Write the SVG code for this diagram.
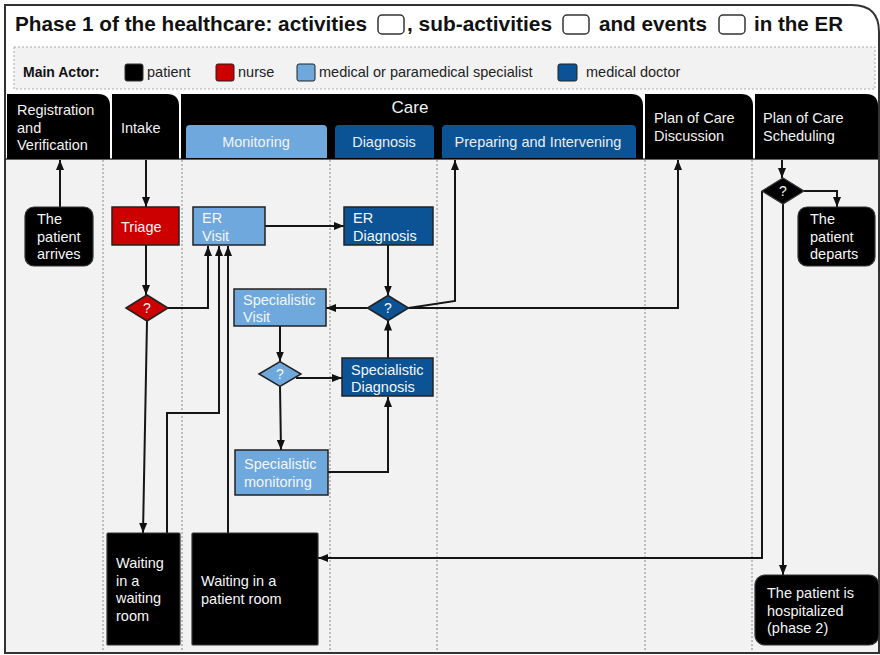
<svg xmlns="http://www.w3.org/2000/svg" width="880" height="655" viewBox="0 0 880 655">
<defs>
<marker id="ah" markerWidth="10" markerHeight="8" refX="10" refY="4" orient="auto" markerUnits="userSpaceOnUse">
<path d="M0,0 L10,4 L0,8 z" fill="#111"/>
</marker>
<style>
text{font-family:"Liberation Sans",Arial,sans-serif}
.t{font-size:14.5px;fill:#f4f6f8}
.h{font-size:14.5px;fill:#f2f2f2}
.title{font-size:20.5px;font-weight:bold;fill:#111}
.lg{font-size:14.5px;fill:#222}
.tab{fill:#000}
.lane{stroke:#9a9a9a;stroke-width:1.2;stroke-dasharray:2,2;fill:none}
.c{fill:none;stroke:#151515;stroke-width:2}
.ca{fill:none;stroke:#151515;stroke-width:2;marker-end:url(#ah)}
.blk{fill:#000;stroke:#333;stroke-width:1.2}
.red{fill:#cc0000;stroke:#222;stroke-width:1.5}
.lb{fill:#6fa8dc;stroke:#222;stroke-width:1.5}
.db{fill:#0b5394;stroke:#222;stroke-width:1.5}
.q{font-size:14px;fill:#f4f6f8;text-anchor:middle}
</style>
</defs>

<!-- frame -->
<g id="frame">
<path d="M5,653 V5 H852 Q879,5 879,32 V653 Z" fill="#fff" stroke="#333" stroke-width="2"/>
<rect x="6" y="159" width="872" height="493" fill="#f2f2f2"/>
<line x1="5" y1="159" x2="879" y2="159" stroke="#333" stroke-width="1.5"/>
<line x1="5" y1="653" x2="879" y2="653" stroke="#333" stroke-width="2"/>
</g>

<!-- title -->
<g id="title">
<text class="title" x="15" y="31" textLength="352" lengthAdjust="spacingAndGlyphs">Phase 1 of the healthcare: activities</text>
<rect x="378" y="15" width="26" height="19" rx="4" fill="#fff" stroke="#333" stroke-width="1.5"/>
<text class="title" x="407" y="31" textLength="145" lengthAdjust="spacingAndGlyphs">, sub-activities</text>
<rect x="563" y="15" width="26" height="19" rx="4" fill="#fff" stroke="#333" stroke-width="1.5"/>
<text class="title" x="599" y="31" textLength="108" lengthAdjust="spacingAndGlyphs">and events</text>
<rect x="719" y="15" width="26" height="19" rx="4" fill="#fff" stroke="#333" stroke-width="1.5"/>
<text class="title" x="754" y="31" textLength="89" lengthAdjust="spacingAndGlyphs">in the ER</text>
</g>

<!-- legend -->
<g id="legend">
<rect x="14" y="47" width="861" height="42" fill="#f2f2f2" stroke="#aaa" stroke-width="1" stroke-dasharray="2,2"/>
<text x="23" y="77" style="font-size:14px;font-weight:bold;fill:#111">Main Actor:</text>
<rect x="125" y="64" width="18" height="17" rx="2" fill="#000" stroke="#333" stroke-width="1"/>
<text class="lg" x="147" y="77">patient</text>
<rect x="216" y="64" width="18" height="17" rx="2" fill="#cc0000" stroke="#222" stroke-width="1"/>
<text class="lg" x="238" y="77">nurse</text>
<rect x="297" y="64" width="18" height="17" rx="2" fill="#6fa8dc" stroke="#222" stroke-width="1"/>
<text class="lg" x="319" y="77">medical or paramedical specialist</text>
<rect x="558" y="64" width="19" height="17" rx="2" fill="#0b5394" stroke="#222" stroke-width="1"/>
<text class="lg" x="586" y="77">medical doctor</text>
</g>

<!-- header tabs -->
<g id="hdr-registration">
<path class="tab" d="M7,159 V94 H98 Q110,94 110,106 V159 Z"/>
<text class="h" x="17" y="115">Registration</text>
<text class="h" x="17" y="132.5">and</text>
<text class="h" x="17" y="150">Verification</text>
</g>
<g id="hdr-intake">
<path class="tab" d="M112,159 V94 H167 Q179,94 179,106 V159 Z"/>
<text class="h" x="121" y="133">Intake</text>
</g>
<g id="hdr-care">
<path class="tab" d="M181,159 V94 H631 Q643,94 643,106 V159 Z"/>
<text class="h" x="410" y="113" text-anchor="middle" style="font-size:17px">Care</text>
<path d="M186,158 V129 Q186,125 190,125 H323 Q327,125 327,129 V158 Z" fill="#6fa8dc"/>
<text x="256" y="147" text-anchor="middle" style="font-size:14.5px;fill:#eef4fb">Monitoring</text>
<path d="M335,158 V129 Q335,125 339,125 H430 Q434,125 434,129 V158 Z" fill="#0b5394"/>
<text x="384" y="147" text-anchor="middle" style="font-size:14.5px;fill:#e6eef8">Diagnosis</text>
<path d="M442,158 V129 Q442,125 446,125 H632 Q636,125 636,129 V158 Z" fill="#0b5394"/>
<text x="538" y="147" text-anchor="middle" style="font-size:14.5px;fill:#e6eef8">Preparing and Intervening</text>
</g>
<g id="hdr-discussion">
<path class="tab" d="M645,159 V94 H741 Q753,94 753,106 V159 Z"/>
<text class="h" x="654" y="123">Plan of Care</text>
<text class="h" x="654" y="141">Discussion</text>
</g>
<g id="hdr-scheduling">
<path class="tab" d="M755,159 V94 H866 Q878,94 878,106 V159 Z"/>
<text class="h" x="763" y="123">Plan of Care</text>
<text class="h" x="763" y="141">Scheduling</text>
</g>

<!-- lanes -->
<g id="lanes">
<line class="lane" x1="103" y1="160" x2="103" y2="652"/>
<line class="lane" x1="182" y1="160" x2="182" y2="652"/>
<line class="lane" x1="330" y1="160" x2="330" y2="652"/>
<line class="lane" x1="437" y1="160" x2="437" y2="652"/>
<line class="lane" x1="645" y1="160" x2="645" y2="652"/>
<line class="lane" x1="752" y1="160" x2="752" y2="652"/>
</g>

<!-- connectors -->
<g id="connectors">
<path class="ca" d="M60,207 V160"/>
<path class="ca" d="M146,160 V207"/>
<path class="ca" d="M146,245 V295"/>
<path class="ca" d="M147,321 L143,533"/>
<path class="ca" d="M168,308 H208 V246"/>
<path class="ca" d="M167,533 V413 H219 V246"/>
<path class="ca" d="M228,533 V246"/>
<path class="ca" d="M265,226 H344"/>
<path class="ca" d="M388,245 V295.5"/>
<path class="ca" d="M367.5,308 H326"/>
<path class="ca" d="M408.5,308 L455,301 V160"/>
<path class="ca" d="M408.5,308 H678 V160"/>
<path class="ca" d="M388,358 V320.5"/>
<path class="ca" d="M280,326 V361.5"/>
<path class="ca" d="M296,378 H342"/>
<path class="ca" d="M280,386.5 L281,450"/>
<path class="ca" d="M328,472 H388 V397"/>
<path class="ca" d="M782,160 V178"/>
<path class="ca" d="M804,191 H837 V207"/>
<path class="ca" d="M783,204 V575"/>
<path class="ca" d="M762,191 V558 H318"/>
</g>

<!-- nodes -->
<g id="n-arrives">
<rect class="blk" x="25" y="207" width="68" height="59" rx="9"/>
<text class="t" x="37" y="224">The</text>
<text class="t" x="37" y="241.5">patient</text>
<text class="t" x="37" y="259">arrives</text>
</g>
<g id="n-triage">
<rect class="red" x="112" y="207" width="67" height="38"/>
<text class="t" x="121" y="232">Triage</text>
</g>
<g id="n-triage-decision">
<path class="red" d="M126,308 L147,295 L168,308 L147,321 Z"/>
<text class="q" x="147" y="313">?</text>
</g>
<g id="n-er-visit">
<rect class="lb" x="193" y="207" width="72" height="38"/>
<text class="t" x="202" y="223">ER</text>
<text class="t" x="202" y="241">Visit</text>
</g>
<g id="n-er-diagnosis">
<rect class="db" x="344" y="207" width="89" height="38"/>
<text class="t" x="353" y="223">ER</text>
<text class="t" x="353" y="241">Diagnosis</text>
</g>
<g id="n-diag-decision">
<path class="db" d="M367.5,308 L388,295.5 L408.5,308 L388,320.5 Z"/>
<text class="q" x="388" y="313">?</text>
</g>
<g id="n-spec-visit">
<rect class="lb" x="234" y="289" width="92" height="37"/>
<text class="t" x="243" y="305">Specialistic</text>
<text class="t" x="243" y="322">Visit</text>
</g>
<g id="n-spec-decision">
<path class="lb" d="M259,374 L280,361.5 L301,374 L280,386.5 Z"/>
<text class="q" x="280" y="379">?</text>
</g>
<g id="n-spec-diagnosis">
<rect class="db" x="342" y="358" width="91" height="38"/>
<text class="t" x="351" y="375">Specialistic</text>
<text class="t" x="351" y="392">Diagnosis</text>
</g>
<g id="n-spec-monitoring">
<rect class="lb" x="235" y="450" width="93" height="45"/>
<text class="t" x="244" y="469">Specialistic</text>
<text class="t" x="244" y="487">monitoring</text>
</g>
<g id="n-waiting-room">
<rect class="blk" x="107" y="533" width="73" height="112" rx="1"/>
<text class="t" x="116" y="568">Waiting</text>
<text class="t" x="116" y="585.5">in a</text>
<text class="t" x="116" y="603">waiting</text>
<text class="t" x="116" y="620.5">room</text>
</g>
<g id="n-patient-room">
<rect class="blk" x="192" y="533" width="126" height="112" rx="1"/>
<text class="t" x="201" y="586">Waiting in a</text>
<text class="t" x="201" y="603.5">patient room</text>
</g>
<g id="n-sched-decision">
<path d="M762,191 L783,178 L804,191 L783,204 Z" fill="#000" stroke="#333" stroke-width="1.2"/>
<text class="q" x="783" y="196">?</text>
</g>
<g id="n-departs">
<rect class="blk" x="798" y="207" width="77" height="59" rx="9"/>
<text class="t" x="810" y="224">The</text>
<text class="t" x="810" y="241.5">patient</text>
<text class="t" x="810" y="259">departs</text>
</g>
<g id="n-hospitalized">
<rect class="blk" x="755" y="575" width="124" height="70" rx="10"/>
<text class="t" x="767" y="598">The patient is</text>
<text class="t" x="767" y="615.5">hospitalized</text>
<text class="t" x="767" y="633">(phase 2)</text>
</g>
</svg>
